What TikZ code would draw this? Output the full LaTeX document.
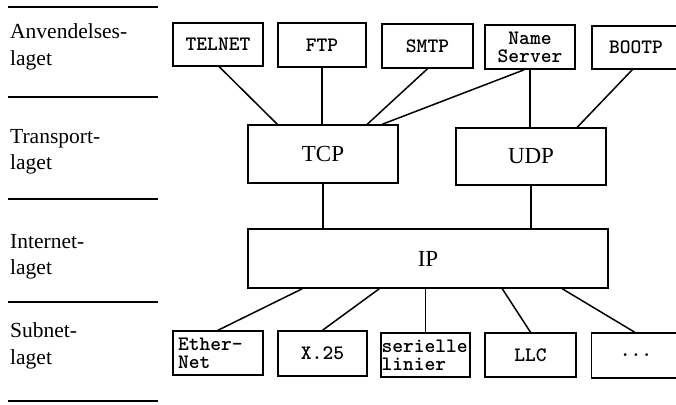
\documentclass[tikz,border=0pt]{standalone}
\usepackage{fontspec}
\setmainfont{Liberation Serif}
\newfontfamily\boxmono{lmmonolt10-bold.otf}
\begin{document}
\begin{tikzpicture}[x=1pt,y=-1pt,
  mbox/.style={draw, line width=1.5pt, inner sep=0pt, align=center,
    font=\boxmono\fontsize{20.5}{18}\selectfont},
  sbox/.style={draw, line width=1.5pt, inner sep=0pt,
    font=\fontsize{23}{26}\selectfont},
  lab/.style={anchor=base west, inner sep=0pt, font=\fontsize{21.5}{26}\selectfont},
  link/.style={line width=1.5pt},
  layerrule/.style={line width=2.5pt}]
\useasboundingbox (0,0) rectangle (676,404);
\clip (0,0) rectangle (676,404);

% layer rules
\foreach \yy in {7,97,199,302,401} \draw[layerrule] (8,\yy) -- (158,\yy);

% layer labels
\node[lab] (l1a) at (10,39) {Anvendelses-};
\node[lab] (l1b) at (10,65) {laget};
\node[lab] (l2a) at (10,143) {Transport-};
\node[lab] (l2b) at (10,169) {laget};
\node[lab] (l3a) at (10,248) {Internet-};
\node[lab] (l3b) at (10,274) {laget};
\node[lab] (l4a) at (10,337) {Subnet-};
\node[lab] (l4b) at (10,364) {laget};

% application boxes
\node[mbox, minimum width=90pt, minimum height=43pt] (telnet) at (218,44.5) {TELNET};
\node[mbox, minimum width=88pt, minimum height=44pt] (ftp) at (322,45) {FTP};
\node[mbox, minimum width=91pt, minimum height=44pt] (smtp) at (427.5,46) {SMTP};
\node[mbox, minimum width=90pt, minimum height=44pt] (ns) at (530,47) {Name\\Server};
\node[mbox, minimum width=88pt, minimum height=43pt] (bootp) at (636,47.5) {BOOTP};

% transport boxes
\node[sbox, minimum width=150pt, minimum height=58pt] (tcp) at (323,154) {TCP};
\node[sbox, minimum width=150pt, minimum height=57pt] (udp) at (531,156.5) {UDP};

% internet box
\node[sbox, minimum width=360pt, minimum height=59pt] (ip) at (428,258.5) {IP};

% subnet boxes
\node[mbox, minimum width=90pt, minimum height=44pt, text width=80pt, inner xsep=5pt, align=left] (eth) at (218,353) {Ether-\\Net};
\node[mbox, minimum width=89pt, minimum height=45pt] (x25) at (322.5,353.5) {X.25};
\node[mbox, minimum width=89pt, minimum height=44pt, text width=88pt, inner xsep=0.5pt, align=left] (ser) at (425.5,355) {serielle\\linier};
\node[mbox, minimum width=91pt, minimum height=44pt] (llc) at (530.5,355) {LLC};
\node[mbox, minimum width=89pt, minimum height=45pt] (dots) at (636,355.5) {...};

% application -> transport
\draw[link] ([xshift=47pt]telnet.south west) -- ([xshift=30pt]tcp.north west);
\draw[link] (ftp.south) -- (ftp.south |- tcp.north);
\draw[link] (smtp.south) -- ([xshift=120pt]tcp.north west);
\draw[link] ([xshift=40pt]ns.south west) -- ([xshift=135pt]tcp.north west);
\draw[link] (ns.south) -- (ns.south |- udp.north);
\draw[link] ([xshift=41pt]bootp.south west) -- ([xshift=122pt]udp.north west);

% transport -> internet
\draw[link] (tcp.south) -- (tcp.south |- ip.north);
\draw[link] (udp.south) -- (udp.south |- ip.north);

% internet -> subnet
\draw[link] ([xshift=55pt]ip.south west) -- (eth.north);
\draw[link] ([xshift=132pt]ip.south west) -- (x25.north);
\draw[link] (ser.north |- ip.south) -- (ser.north);
\draw[link] ([xshift=255pt]ip.south west) -- (llc.north);
\draw[link] ([xshift=315pt]ip.south west) -- ([xshift=44pt]dots.north west);
\end{tikzpicture}
\end{document}
